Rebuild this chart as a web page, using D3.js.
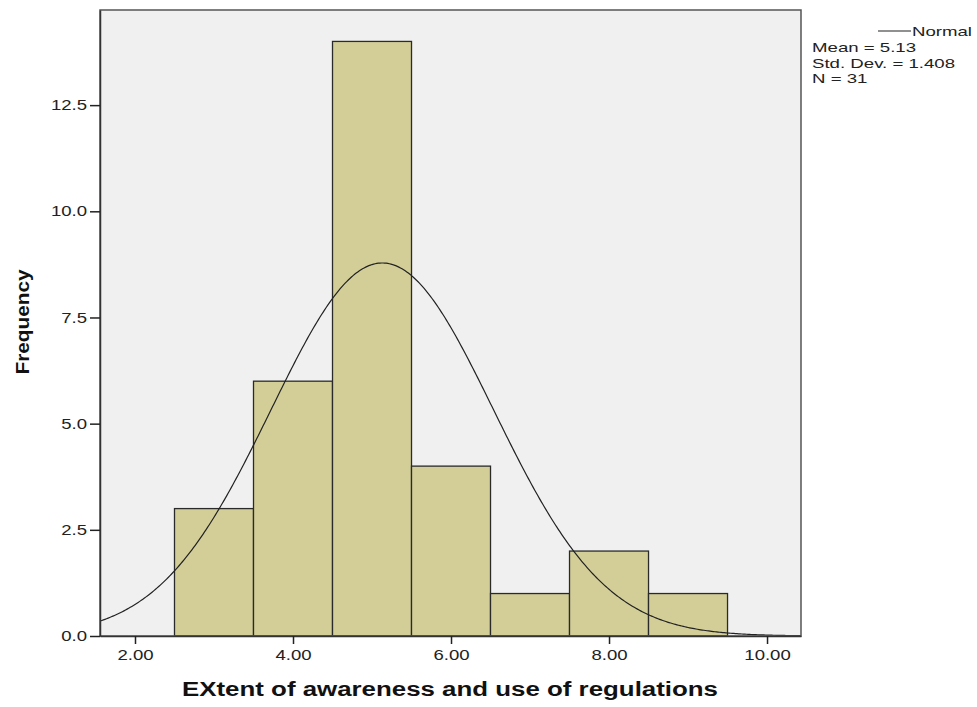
<!DOCTYPE html>
<html><head><meta charset="utf-8">
<script src="https://cdn.jsdelivr.net/npm/d3@7"></script>
<style>body{margin:0;background:#fff;}svg text{font-family:"Liberation Sans",Arial,sans-serif;}</style>
</head><body>
<svg id="c" width="977" height="707"></svg>
<script>
const binStarts = [2.5, 3.5, 4.5, 5.5, 6.5, 7.5, 8.5];
const binCounts = [3, 6, 14, 4, 1, 2, 1];
const xTicks = [2, 4, 6, 8, 10];
const yTicks = [0, 2.5, 5, 7.5, 10, 12.5];
const stats = {mean: 5.13, sd: 1.408, n: 31};
const binWidth = 1;

const svg = d3.select("#c");
const L = 100, R = 801, T = 10, B = 636;
const x = d3.scaleLinear().domain([1.557, 10.43]).range([L, R]);
const y = d3.scaleLinear().domain([0, 14.74]).range([B, T]);

function stretch(sel, f) {
  sel.each(function() {
    const w = this.getComputedTextLength();
    d3.select(this).attr("textLength", w * f).attr("lengthAdjust", "spacingAndGlyphs");
  });
}

svg.append("rect").attr("x", L).attr("y", T).attr("width", R - L).attr("height", B - T)
  .attr("fill", "#f0f0f0");

svg.append("clipPath").attr("id", "clip").append("rect")
  .attr("x", L).attr("y", T).attr("width", R - L).attr("height", B - T);

svg.selectAll("rect.bar").data(binStarts.map((s, i) => ({s, c: binCounts[i]})))
  .enter().append("rect").attr("class", "bar")
  .attr("x", d => x(d.s)).attr("width", d => x(d.s + binWidth) - x(d.s))
  .attr("y", d => y(d.c)).attr("height", d => y(0) - y(d.c))
  .attr("fill", "#d3ce98").attr("stroke", "#2a2a2a").attr("stroke-width", 1.3);

// normal curve from stated mean, sd, N
const pts = d3.range(1.5, 10.5001, 0.02).map(v => [v,
  stats.n * binWidth / (stats.sd * Math.sqrt(2 * Math.PI)) * Math.exp(-0.5 * ((v - stats.mean) / stats.sd) ** 2)]);
svg.append("path").datum(pts).attr("clip-path", "url(#clip)")
  .attr("d", d3.line().x(d => x(d[0])).y(d => y(d[1])))
  .attr("fill", "none").attr("stroke", "#222").attr("stroke-width", 1.2);

// frame
svg.append("rect").attr("x", L).attr("y", T).attr("width", R - L).attr("height", B - T)
  .attr("fill", "none").attr("stroke", "#555").attr("stroke-width", 1.5);

// axes
const yAxis = svg.append("g").attr("transform", `translate(${L},0)`)
  .call(d3.axisLeft(y).tickValues(yTicks).tickFormat(d3.format(".1f")).tickSize(10).tickSizeOuter(0).tickPadding(3));
const xAxis = svg.append("g").attr("transform", `translate(0,${B})`)
  .call(d3.axisBottom(x).tickValues(xTicks).tickFormat(d3.format(".2f")).tickSize(8).tickSizeOuter(0).tickPadding(6));
[yAxis, xAxis].forEach(a => {
  a.select(".domain").attr("stroke", "#333").attr("stroke-width", 1.5);
  a.selectAll(".tick line").attr("stroke", "#222").attr("stroke-width", 1.5);
  a.selectAll(".tick text").attr("font-size", 14.5).attr("fill", "#222")
    .attr("font-family", "'Liberation Sans',Arial,sans-serif");
  stretch(a.selectAll(".tick text"), 1.28);
});

const xt = svg.append("text").attr("x", 450).attr("y", 696).attr("text-anchor", "middle")
  .attr("font-size", 19.5).attr("font-weight", "bold").attr("fill", "#111")
  .text("EXtent of awareness and use of regulations");
xt.attr("textLength", 536).attr("lengthAdjust", "spacingAndGlyphs");
const yt = svg.append("text").attr("transform", "translate(29,322) rotate(-90)").attr("text-anchor", "middle")
  .attr("font-size", 17.5).attr("font-weight", "bold").attr("fill", "#111").text("Frequency");
yt.attr("textLength", 105).attr("lengthAdjust", "spacingAndGlyphs");

// legend
svg.append("line").attr("x1", 878).attr("x2", 911).attr("y1", 31).attr("y2", 31)
  .attr("stroke", "#222").attr("stroke-width", 1.2);
svg.append("text").attr("x", 912).attr("y", 36).attr("font-size", 13.5).attr("fill", "#222").text("Normal")
  .attr("textLength", 60).attr("lengthAdjust", "spacingAndGlyphs");
const lines = [`Mean = ${stats.mean}`, `Std. Dev. = ${stats.sd}`, `N = ${stats.n}`];
const st = svg.selectAll("text.st").data(lines).enter().append("text").attr("class", "st")
  .attr("x", 812).attr("y", (d, i) => 52 + i * 15.5).attr("font-size", 13.5).attr("fill", "#222").text(d => d);
stretch(st, 1.38);
</script>
</body></html>
